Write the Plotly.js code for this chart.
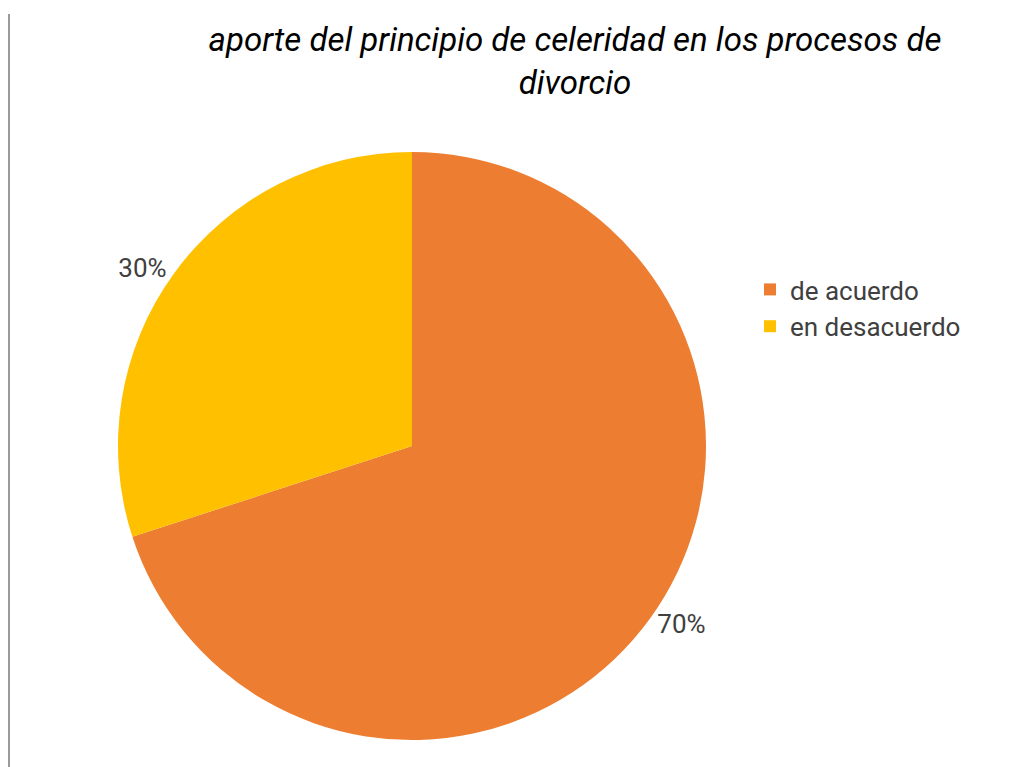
<!DOCTYPE html>
<html>
<head>
<meta charset="utf-8">
<script src="https://cdn.plot.ly/plotly-3.0.1.min.js"></script>
<style>
html,body{margin:0;padding:0;background:#fff;}
#wrap{position:relative;width:1029px;height:767px;}
#chart{width:1029px;height:767px;}
#bar{position:absolute;left:8px;top:14px;width:2px;height:753px;background:#9a9a9a;}
</style>
</head>
<body>
<div id="wrap"><div id="chart"></div><div id="bar"></div></div>
<script>
var categories = ["de acuerdo", "en desacuerdo"];
var values = [70, 30];
var colors = ["#ED7D31", "#FFC000"];
var titleText = "aporte del principio de celeridad en los procesos de<br>divorcio";

var data = [{
  type: "pie",
  labels: categories,
  values: values,
  sort: false,
  direction: "clockwise",
  rotation: 0,
  marker: {colors: colors, line: {width: 0}},
  textinfo: "percent",
  texttemplate: "%{percent:.0%}",
  textposition: "outside",
  textfont: {family: "Roboto", size: 26, color: "#404040"},
  hoverinfo: "label+percent",
  domain: {x: [118/1029, 706/1029], y: [27/767, 615/767]}
}];

var layout = {
  width: 1029,
  height: 767,
  margin: {l: 0, r: 0, t: 0, b: 0},
  paper_bgcolor: "#ffffff",
  font: {family: "Roboto", color: "#404040"},
  title: {
    text: titleText,
    font: {family: "Roboto", size: 33, color: "#000000", style: "italic"},
    x: 575/1029,
    xanchor: "center",
    y: 1 - 51/767,
    yanchor: "middle"
  },
  showlegend: true,
  legend: {
    x: 750/1029,
    y: 1 - 266/767,
    xanchor: "left",
    yanchor: "top",
    font: {family: "Roboto", size: 26, color: "#404040"},
    itemwidth: 30,
    tracegroupgap: 0
  }
};

Plotly.newPlot("chart", data, layout, {displayModeBar: false});
</script>
</body>
</html>
